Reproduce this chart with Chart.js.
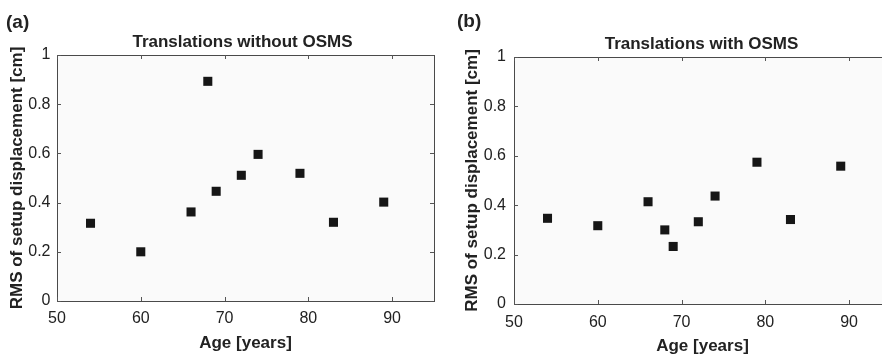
<!DOCTYPE html>
<html>
<head>
<meta charset="utf-8">
<script src="https://cdn.jsdelivr.net/npm/chart.js@4.4.1/dist/chart.umd.min.js"></script>
<style>
  html, body { margin: 0; padding: 0; background: #fff; overflow: hidden; width: 882px; height: 357px; }
  .panel { position: absolute; top: 0; height: 357px; }
  #wrapA { left: 0; width: 441px; }
  #wrapB { left: 455px; width: 443px; }
</style>
</head>
<body>
<div class="panel" id="wrapA"><canvas id="chartA" width="441" height="357"></canvas></div>
<div class="panel" id="wrapB"><canvas id="chartB" width="443" height="357"></canvas></div>
<script>
// data
const ages = [54, 60, 66, 68, 69, 72, 74, 79, 83, 89];
const rmsWithout = [0.316, 0.200, 0.362, 0.893, 0.446, 0.511, 0.596, 0.519, 0.320, 0.402];
const rmsWith = [0.347, 0.317, 0.414, 0.300, 0.233, 0.333, 0.437, 0.574, 0.342, 0.558];
const xTicks = [50, 60, 70, 80, 90];
const yTicks = [0, 0.2, 0.4, 0.6, 0.8, 1];

const FONT = "'Liberation Sans', Arial, Helvetica, sans-serif";
const TEXT = '#222';

// box around the plot with inward ticks, MATLAB style, plus title and panel letter
const framePlugin = {
    id: 'frame',
    beforeDatasetsDraw(chart) {
        const { ctx, chartArea: a } = chart;
        ctx.save();
        ctx.fillStyle = '#fafafa';
        ctx.fillRect(a.left, a.top, a.right - a.left, a.bottom - a.top);
        ctx.restore();
    },
    afterDraw(chart) {
        const { ctx, chartArea: a, scales } = chart;
        const o = chart.options.plugins.frame;
        ctx.save();
        ctx.strokeStyle = '#4a4a4a';
        ctx.lineWidth = 1;
        ctx.strokeRect(Math.round(a.left) + 0.5, Math.round(a.top) + 0.5,
            Math.round(a.right - a.left), Math.round(a.bottom - a.top));
        ctx.strokeStyle = '#555';
        ctx.beginPath();
        scales.x.ticks.forEach(t => {
            const px = Math.round(scales.x.getPixelForValue(t.value)) + 0.5;
            ctx.moveTo(px, a.bottom); ctx.lineTo(px, a.bottom - 4);
            ctx.moveTo(px, a.top); ctx.lineTo(px, a.top + 4);
        });
        scales.y.ticks.forEach(t => {
            const py = Math.round(scales.y.getPixelForValue(t.value)) + 0.5;
            ctx.moveTo(a.left, py); ctx.lineTo(a.left + 4, py);
            ctx.moveTo(a.right, py); ctx.lineTo(a.right - 4, py);
        });
        ctx.stroke();

        ctx.fillStyle = TEXT;
        ctx.textAlign = 'center';
        ctx.textBaseline = 'middle';
        ctx.font = 'bold 17px ' + FONT;
        ctx.fillText(o.title, (a.left + a.right) / 2 + o.titleDx, o.titleY);
        ctx.textAlign = 'left';
        ctx.font = 'bold 19px ' + FONT;
        ctx.fillText(o.letter, o.letterX, o.letterY);
        ctx.restore();
    }
};

function makeChart(id, values, cfg) {
    return new Chart(document.getElementById(id), {
        type: 'scatter',
        data: {
            datasets: [{
                data: ages.map((a, i) => ({ x: a, y: values[i] })),
                backgroundColor: '#161616',
                pointStyle: 'rect',
                pointRadius: 6.4,
                pointBorderWidth: 0
            }]
        },
        options: {
            responsive: false,
            animation: false,
            layout: { padding: { left: 0, right: 7, top: cfg.top, bottom: 0 } },
            plugins: {
                legend: { display: false },
                tooltip: { enabled: false },
                frame: cfg.frame
            },
            scales: {
                x: {
                    type: 'linear', min: 50, max: 95,
                    grid: { display: false, drawTicks: false },
                    border: { display: false },
                    afterBuildTicks: s => { s.ticks = xTicks.map(v => ({ value: v })); },
                    afterFit: s => { s.height = cfg.xHeight; },
                    ticks: { padding: cfg.xPad, color: TEXT, font: { family: FONT, size: 16 }, maxRotation: 0 },
                    title: { display: true, text: 'Age [years]', color: TEXT,
                        font: { family: FONT, size: 17, weight: 'bold' }, padding: { top: 0, bottom: cfg.xTitlePad } }
                },
                y: {
                    type: 'linear', min: 0, max: 1,
                    grid: { display: false, drawTicks: false },
                    border: { display: false },
                    afterBuildTicks: s => { s.ticks = yTicks.map(v => ({ value: v })); },
                    afterFit: s => { s.width = cfg.yWidth; },
                    ticks: { padding: cfg.yPad, color: TEXT, font: { family: FONT, size: 16 },
                        callback: v => String(v) },
                    title: { display: true, text: 'RMS of setup displacement [cm]', color: TEXT,
                        font: { family: FONT, size: 17, weight: 'bold' }, padding: { top: cfg.yTitlePad, bottom: 0 } }
                }
            }
        },
        plugins: [framePlugin]
    });
}

makeChart('chartA', rmsWithout, {
    top: 55, xHeight: 56, yWidth: 57, xPad: 7.9, yPad: 6.5, xTitlePad: 3.3, yTitlePad: 6.8,
    frame: { title: 'Translations without OSMS', titleDx: -3, titleY: 42, letter: '(a)', letterX: 6, letterY: 23 }
});
makeChart('chartB', rmsWith, {
    top: 57, xHeight: 53, yWidth: 59, xPad: 8.7, yPad: 8, xTitlePad: 0.3, yTitlePad: 7.3,
    frame: { title: 'Translations with OSMS', titleDx: -1, titleY: 44, letter: '(b)', letterX: 2, letterY: 22 }
});
</script>
</body>
</html>
